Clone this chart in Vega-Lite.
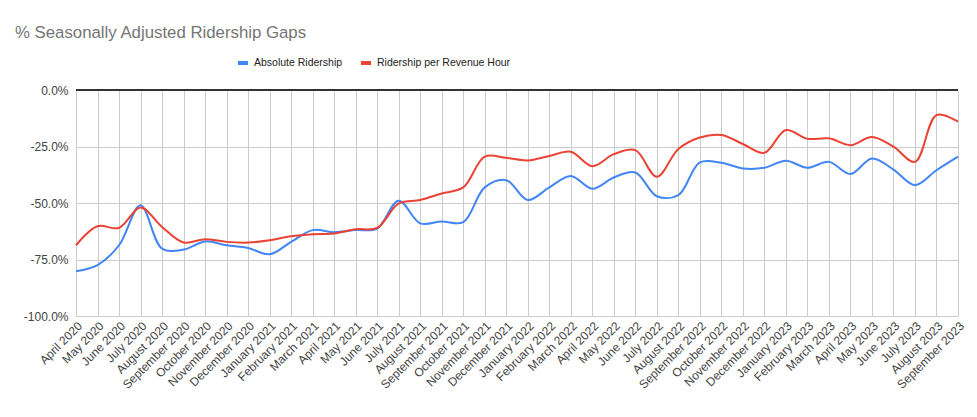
{
  "$schema": "https://vega.github.io/schema/vega-lite/v6.json",
  "autosize": "none",
  "width": 882,
  "height": 226,
  "padding": {"left": 76, "top": 90, "right": 19, "bottom": 101},
  "background": "white",
  "title": {
    "text": "% Seasonally Adjusted Ridership Gaps",
    "anchor": "start",
    "frame": "group",
    "dx": -61,
    "fontSize": 16.8,
    "font": "Liberation Sans",
    "fontWeight": "normal",
    "color": "#757575",
    "offset": 14
  },
  "config": {
    "font": "Liberation Sans",
    "view": {"stroke": null}
  },
  "data": {
    "values": [
      {"month": "April 2020", "series": "Absolute Ridership", "value": -0.802},
      {"month": "May 2020", "series": "Absolute Ridership", "value": -0.775},
      {"month": "June 2020", "series": "Absolute Ridership", "value": -0.687},
      {"month": "July 2020", "series": "Absolute Ridership", "value": -0.51},
      {"month": "August 2020", "series": "Absolute Ridership", "value": -0.702},
      {"month": "September 2020", "series": "Absolute Ridership", "value": -0.706},
      {"month": "October 2020", "series": "Absolute Ridership", "value": -0.67},
      {"month": "November 2020", "series": "Absolute Ridership", "value": -0.687},
      {"month": "December 2020", "series": "Absolute Ridership", "value": -0.699},
      {"month": "January 2021", "series": "Absolute Ridership", "value": -0.727},
      {"month": "February 2021", "series": "Absolute Ridership", "value": -0.672},
      {"month": "March 2021", "series": "Absolute Ridership", "value": -0.62},
      {"month": "April 2021", "series": "Absolute Ridership", "value": -0.629},
      {"month": "May 2021", "series": "Absolute Ridership", "value": -0.62},
      {"month": "June 2021", "series": "Absolute Ridership", "value": -0.613},
      {"month": "July 2021", "series": "Absolute Ridership", "value": -0.49},
      {"month": "August 2021", "series": "Absolute Ridership", "value": -0.59},
      {"month": "September 2021", "series": "Absolute Ridership", "value": -0.582},
      {"month": "October 2021", "series": "Absolute Ridership", "value": -0.585},
      {"month": "November 2021", "series": "Absolute Ridership", "value": -0.431},
      {"month": "December 2021", "series": "Absolute Ridership", "value": -0.399},
      {"month": "January 2022", "series": "Absolute Ridership", "value": -0.487},
      {"month": "February 2022", "series": "Absolute Ridership", "value": -0.431},
      {"month": "March 2022", "series": "Absolute Ridership", "value": -0.38},
      {"month": "April 2022", "series": "Absolute Ridership", "value": -0.437},
      {"month": "May 2022", "series": "Absolute Ridership", "value": -0.387},
      {"month": "June 2022", "series": "Absolute Ridership", "value": -0.365},
      {"month": "July 2022", "series": "Absolute Ridership", "value": -0.47},
      {"month": "August 2022", "series": "Absolute Ridership", "value": -0.465},
      {"month": "September 2022", "series": "Absolute Ridership", "value": -0.32},
      {"month": "October 2022", "series": "Absolute Ridership", "value": -0.322},
      {"month": "November 2022", "series": "Absolute Ridership", "value": -0.347},
      {"month": "December 2022", "series": "Absolute Ridership", "value": -0.344},
      {"month": "January 2023", "series": "Absolute Ridership", "value": -0.313},
      {"month": "February 2023", "series": "Absolute Ridership", "value": -0.344},
      {"month": "March 2023", "series": "Absolute Ridership", "value": -0.318},
      {"month": "April 2023", "series": "Absolute Ridership", "value": -0.372},
      {"month": "May 2023", "series": "Absolute Ridership", "value": -0.303},
      {"month": "June 2023", "series": "Absolute Ridership", "value": -0.352},
      {"month": "July 2023", "series": "Absolute Ridership", "value": -0.421},
      {"month": "August 2023", "series": "Absolute Ridership", "value": -0.355},
      {"month": "September 2023", "series": "Absolute Ridership", "value": -0.295},
      {"month": "April 2020", "series": "Ridership per Revenue Hour", "value": -0.687},
      {"month": "May 2020", "series": "Ridership per Revenue Hour", "value": -0.603},
      {"month": "June 2020", "series": "Ridership per Revenue Hour", "value": -0.61},
      {"month": "July 2020", "series": "Ridership per Revenue Hour", "value": -0.52},
      {"month": "August 2020", "series": "Ridership per Revenue Hour", "value": -0.606},
      {"month": "September 2020", "series": "Ridership per Revenue Hour", "value": -0.675},
      {"month": "October 2020", "series": "Ridership per Revenue Hour", "value": -0.66},
      {"month": "November 2020", "series": "Ridership per Revenue Hour", "value": -0.672},
      {"month": "December 2020", "series": "Ridership per Revenue Hour", "value": -0.675},
      {"month": "January 2021", "series": "Ridership per Revenue Hour", "value": -0.665},
      {"month": "February 2021", "series": "Ridership per Revenue Hour", "value": -0.647},
      {"month": "March 2021", "series": "Ridership per Revenue Hour", "value": -0.638},
      {"month": "April 2021", "series": "Ridership per Revenue Hour", "value": -0.635},
      {"month": "May 2021", "series": "Ridership per Revenue Hour", "value": -0.616},
      {"month": "June 2021", "series": "Ridership per Revenue Hour", "value": -0.61},
      {"month": "July 2021", "series": "Ridership per Revenue Hour", "value": -0.502},
      {"month": "August 2021", "series": "Ridership per Revenue Hour", "value": -0.487},
      {"month": "September 2021", "series": "Ridership per Revenue Hour", "value": -0.458},
      {"month": "October 2021", "series": "Ridership per Revenue Hour", "value": -0.431},
      {"month": "November 2021", "series": "Ridership per Revenue Hour", "value": -0.295},
      {"month": "December 2021", "series": "Ridership per Revenue Hour", "value": -0.3},
      {"month": "January 2022", "series": "Ridership per Revenue Hour", "value": -0.312},
      {"month": "February 2022", "series": "Ridership per Revenue Hour", "value": -0.292},
      {"month": "March 2022", "series": "Ridership per Revenue Hour", "value": -0.273},
      {"month": "April 2022", "series": "Ridership per Revenue Hour", "value": -0.337},
      {"month": "May 2022", "series": "Ridership per Revenue Hour", "value": -0.284},
      {"month": "June 2022", "series": "Ridership per Revenue Hour", "value": -0.266},
      {"month": "July 2022", "series": "Ridership per Revenue Hour", "value": -0.384},
      {"month": "August 2022", "series": "Ridership per Revenue Hour", "value": -0.261},
      {"month": "September 2022", "series": "Ridership per Revenue Hour", "value": -0.21},
      {"month": "October 2022", "series": "Ridership per Revenue Hour", "value": -0.199},
      {"month": "November 2022", "series": "Ridership per Revenue Hour", "value": -0.239},
      {"month": "December 2022", "series": "Ridership per Revenue Hour", "value": -0.278},
      {"month": "January 2023", "series": "Ridership per Revenue Hour", "value": -0.177},
      {"month": "February 2023", "series": "Ridership per Revenue Hour", "value": -0.216},
      {"month": "March 2023", "series": "Ridership per Revenue Hour", "value": -0.214},
      {"month": "April 2023", "series": "Ridership per Revenue Hour", "value": -0.244},
      {"month": "May 2023", "series": "Ridership per Revenue Hour", "value": -0.208},
      {"month": "June 2023", "series": "Ridership per Revenue Hour", "value": -0.251},
      {"month": "July 2023", "series": "Ridership per Revenue Hour", "value": -0.318},
      {"month": "August 2023", "series": "Ridership per Revenue Hour", "value": -0.111},
      {"month": "September 2023", "series": "Ridership per Revenue Hour", "value": -0.14}
    ]
  },
  "layer": [
    {
      "mark": {"type": "line", "interpolate": "catmull-rom", "strokeWidth": 2},
      "encoding": {
        "x": {
          "field": "month",
          "type": "ordinal",
          "sort": null,
          "scale": {"type": "point", "padding": 0},
          "axis": {
            "title": null,
            "labelAngle": -45,
            "labelFontSize": 12,
            "labelColor": "#444",
            "grid": true,
            "gridColor": "#cccccc",
            "domain": false,
            "ticks": false,
            "labelPadding": 4
          }
        },
        "y": {
          "field": "value",
          "type": "quantitative",
          "scale": {"domain": [-1, 0], "nice": false},
          "axis": {
            "title": null,
            "values": [-1, -0.75, -0.5, -0.25, 0],
            "labelExpr": "replace(format(datum.value, '.1%'), '\u2212', '-')",
            "labelFontSize": 12,
            "labelColor": "#444",
            "gridColor": "#cccccc",
            "domain": false,
            "ticks": false,
            "labelPadding": 8
          }
        },
        "color": {
          "field": "series",
          "type": "nominal",
          "sort": ["Absolute Ridership", "Ridership per Revenue Hour"],
          "scale": {"range": ["#4285F4", "#EA4335"]},
          "legend": {
            "title": null,
            "orient": "none",
            "legendX": 160,
            "legendY": -34,
            "direction": "horizontal",
            "symbolType": "stroke",
            "symbolStrokeWidth": 4,
            "symbolSize": 100,
            "labelFontSize": 10.5,
            "labelColor": "#222",
            "columnPadding": 10
          }
        }
      }
    },
    {
      "mark": {"type": "rule", "color": "#333333", "strokeWidth": 1},
      "encoding": {"y": {"datum": 0}}
    }
  ]
}
